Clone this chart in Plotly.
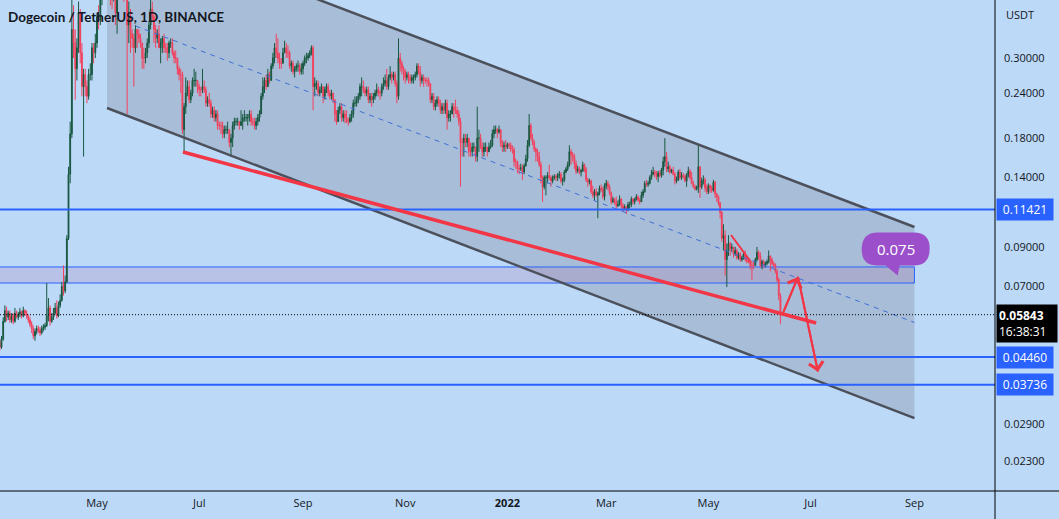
import numpy as np
import pandas as pd
import plotly.graph_objects as go

# ---------------- data (DOGE/USDT daily) ----------------
first_date = "2021-03-04"
first_open = 0.0490

closes = [
    # Mar 2021 (4-31)
    .0475, .0500, .0560, .0600, .0575, .0590, .0565, .0580, .0560, .0590, .0575, .0585, .0595, .0580,
    .0600, .0590, .0580, .0565, .0550, .0535, .0510, .0525, .0535, .0530, .0520, .0535, .0540, .0545,
    # Apr 2021
    .0580, .0610, .0560, .0575, .0590, .0610, .0580, .0620, .0640, .0700,
    .0680, .0720, .0950, .1430, .1850, .3600, .3300, .2800, .3200, .4000,
    .3100, .2500, .2700, .2500, .2350, .2700, .2700, .3200, .3100, .3300,
    # May 2021
    .39, .38, .44, .55, .59, .66, .68, .66, .49, .46, .50, .40, .47, .54, .51, .51,
    .48, .47, .37, .39, .35, .34, .32, .36, .35, .34, .33, .30, .30, .31, .33,
    # Jun 2021
    .37, .41, .39, .36, .34, .35, .32, .33, .34, .32, .32, .31, .33, .33, .31,
    .30, .30, .28, .27, .27, .19, .22, .24, .25, .23, .24, .26, .26, .26, .25,
    # Jul 2021
    .245, .245, .25, .245, .225, .23, .225, .21, .215, .205, .21, .195, .195, .195, .185, .19,
    .19, .19, .175, .18, .195, .20, .20, .20, .195, .20, .205, .205, .205, .205, .21,
    # Aug 2021
    .20, .20, .195, .20, .205, .21, .235, .25, .26, .25, .27, .26, .285, .30, .32, .31,
    .30, .29, .29, .31, .32, .31, .31, .285, .29, .275, .28, .285, .285, .275, .28,
    # Sep 2021
    .29, .30, .30, .305, .31, .32, .25, .255, .255, .24, .245, .25, .235, .245, .25,
    .24, .235, .24, .23, .21, .20, .215, .22, .205, .21, .205, .20, .20, .205, .21,
    # Oct 2021
    .225, .225, .23, .235, .25, .25, .245, .24, .245, .23, .235, .23, .235, .24, .245, .24,
    .24, .25, .255, .26, .25, .265, .27, .265, .27, .255, .235, .30, .29, .28, .275,
    # Nov 2021
    .265, .27, .265, .26, .265, .265, .27, .285, .275, .26, .265, .26, .26, .26, .255,
    .23, .235, .22, .225, .23, .225, .215, .22, .215, .225, .205, .21, .21, .22, .215,
    # Dec 2021
    .215, .21, .20, .175, .175, .18, .175, .18, .165, .165, .17, .17, .16, .18, .18, .17,
    .165, .17, .17, .165, .17, .172, .185, .19, .19, .187, .19, .175, .17, .172, .17,
    # Jan 2022
    .173, .172, .168, .167, .155, .155, .148, .148, .149, .145, .151, .158, .172, .195, .18, .175,
    .168, .165, .16, .152, .14, .132, .14, .14, .142, .14, .137, .14, .141, .14, .142,
    # Feb 2022
    .143, .137, .138, .145, .148, .152, .165, .162, .16, .153, .146, .148, .145, .146,
    .152, .148, .138, .136, .137, .128, .125, .128, .125, .127, .131, .13, .124, .133,
    # Mar 2022
    .135, .132, .127, .12, .122, .12, .117, .118, .122, .117, .115, .116, .114, .118, .118, .122,
    .12, .122, .124, .121, .12, .125, .128, .135, .134, .135, .14, .143, .145, .143, .141,
    # Apr 2022
    .144, .142, .147, .155, .16, .148, .15, .145, .147, .143, .137, .138, .145, .14, .142,
    .141, .137, .142, .146, .14, .135, .132, .13, .132, .15, .132, .137, .138, .131, .128,
    # May 2022
    .133, .131, .129, .136, .126, .124, .119, .112, .095, .097, .083, .088, .092, .089, .09, .086,
    .088, .084, .086, .083, .084, .086, .083, .082, .082, .08, .08, .08, .083, .087, .085,
    # Jun 2022 (1-13)
    .080, .082, .080, .081, .082, .085, .083, .081, .080, .077, .073, .066, .05843,
]

highs = [
    .0500, .0510, .0575, .0620, .0615, .0600, .0600, .0590, .0590, .0610, .0600, .0595, .0610, .0600,
    .0615, .0605, .0600, .0585, .0575, .0560, .0545, .0535, .0545, .0545, .0540, .0545, .0550, .0555,
    .0715, .0650, .0620, .0590, .0610, .0630, .0640, .0635, .0665, .0720,
    .0800, .0750, .0970, .1500, .2000, .4500, .4200, .3600, .3400, .4300,
    .4100, .3300, .2800, .2800, .2600, .2800, .2900, .3300, .3300, .3500,
    .40, .42, .46, .59, .69, .68, .69, .74, .66, .56, .51, .54, .57, .59, .57, .59,
    .51, .51, .48, .43, .41, .36, .35, .37, .36, .36, .35, .33, .32, .32, .34,
    .38, .44, .43, .40, .37, .36, .37, .34, .345, .35, .33, .33, .335, .34, .34,
    .315, .315, .30, .285, .28, .275, .225, .265, .26, .26, .245, .265, .28, .275, .26,
    .255, .25, .28, .26, .25, .235, .24, .23, .22, .22, .215, .215, .20, .20, .20, .195,
    .195, .20, .19, .185, .20, .205, .205, .205, .20, .215, .21, .215, .21, .21, .215,
    .215, .205, .205, .205, .21, .215, .24, .265, .265, .27, .28, .275, .29, .31, .33, .35,
    .34, .31, .30, .32, .335, .33, .325, .315, .295, .295, .285, .29, .295, .29, .29,
    .295, .305, .31, .31, .315, .325, .325, .265, .26, .26, .25, .255, .25, .25, .255,
    .255, .245, .245, .24, .23, .215, .22, .225, .225, .215, .215, .215, .205, .21, .215,
    .23, .235, .235, .24, .255, .265, .26, .25, .25, .25, .24, .24, .24, .245, .255, .25,
    .245, .255, .265, .27, .28, .27, .285, .275, .275, .275, .26, .34, .31, .295, .285,
    .28, .275, .275, .27, .27, .27, .275, .29, .29, .285, .27, .27, .265, .265, .265,
    .255, .24, .24, .23, .235, .235, .23, .225, .225, .23, .23, .215, .215, .225, .225,
    .23, .22, .215, .205, .18, .185, .185, .185, .18, .175, .175, .175, .17, .22, .19, .185,
    .175, .175, .175, .17, .175, .178, .19, .195, .195, .192, .195, .19, .178, .176, .178,
    .175, .175, .175, .172, .17, .158, .156, .152, .153, .152, .153, .162, .178, .21, .198, .185,
    .178, .17, .168, .165, .155, .142, .142, .142, .145, .152, .142, .142, .143, .143, .144,
    .146, .145, .14, .147, .15, .155, .172, .168, .165, .163, .156, .151, .15, .148,
    .155, .153, .15, .14, .139, .138, .133, .13, .131, .128, .133, .134, .132, .135,
    .138, .137, .134, .128, .124, .123, .124, .121, .125, .123, .119, .118, .117, .12, .12, .124,
    .123, .123, .126, .125, .123, .128, .13, .137, .138, .137, .142, .147, .15, .147, .146,
    .146, .147, .149, .16, .18, .165, .155, .152, .148, .15, .145, .141, .147, .148, .145,
    .144, .143, .144, .15, .148, .145, .137, .134, .133, .172, .15, .14, .142, .14, .134,
    .135, .134, .133, .138, .137, .127, .125, .12, .113, .104, .1, .092, .097, .093, .092, .09,
    .09, .089, .087, .087, .085, .087, .088, .085, .084, .083, .082, .082, .084, .09, .088,
    .087, .083, .083, .082, .083, .088, .085, .084, .082, .081, .078, .074, .067,
]

lows = [
    .0465, .0470, .0495, .0555, .0560, .0565, .0555, .0555, .0550, .0555, .0570, .0565, .0575, .0570,
    .0575, .0580, .0570, .0555, .0540, .0520, .0500, .0495, .0515, .0520, .0510, .0515, .0525, .0530,
    .0540, .0560, .0545, .0555, .0565, .0585, .0570, .0575, .0610, .0635,
    .0660, .0670, .0715, .0940, .1350, .1800, .3000, .2300, .2600, .3100,
    .2900, .2350, .1600, .2350, .2250, .2300, .2600, .2600, .2900, .3000,
    .32, .36, .37, .42, .53, .53, .61, .61, .42, .41, .43, .37, .35, .46, .48, .44,
    .43, .45, .21, .33, .31, .32, .25, .31, .32, .33, .32, .28, .28, .29, .30,
    .32, .36, .38, .33, .32, .33, .32, .29, .31, .31, .31, .295, .30, .32, .305,
    .29, .29, .27, .26, .24, .185, .165, .21, .235, .225, .225, .235, .25, .25, .24,
    .235, .235, .24, .24, .22, .22, .22, .205, .205, .20, .20, .19, .19, .185, .18, .18,
    .185, .185, .17, .16, .17, .19, .195, .195, .19, .195, .19, .20, .20, .195, .20,
    .195, .195, .19, .19, .195, .20, .21, .23, .24, .245, .25, .255, .26, .28, .29, .30,
    .29, .28, .28, .29, .31, .30, .30, .28, .275, .27, .265, .275, .275, .27, .27,
    .27, .285, .29, .295, .30, .305, .215, .235, .245, .235, .235, .24, .225, .23, .24,
    .235, .23, .23, .225, .20, .196, .20, .21, .20, .20, .198, .198, .195, .198, .20,
    .205, .22, .22, .225, .23, .235, .24, .235, .235, .225, .225, .22, .225, .23, .235, .235,
    .23, .235, .245, .25, .245, .245, .26, .255, .26, .25, .225, .23, .275, .27, .26,
    .255, .26, .255, .255, .255, .255, .26, .265, .27, .25, .255, .25, .255, .25, .25,
    .225, .225, .215, .215, .22, .22, .21, .21, .21, .21, .19, .20, .20, .21, .205,
    .21, .205, .195, .132, .16, .16, .17, .17, .16, .16, .16, .165, .155, .155, .165, .168,
    .16, .16, .165, .16, .165, .168, .17, .18, .185, .18, .185, .17, .165, .165, .165,
    .168, .168, .165, .163, .15, .148, .144, .143, .146, .138, .143, .15, .155, .17, .178, .172,
    .165, .155, .155, .15, .135, .12, .13, .125, .135, .138, .132, .135, .138, .137, .137,
    .139, .135, .133, .136, .144, .146, .15, .152, .155, .148, .143, .144, .143, .141,
    .145, .145, .136, .132, .134, .126, .123, .121, .124, .108, .125, .128, .122, .121,
    .13, .129, .125, .118, .119, .118, .115, .116, .117, .115, .113, .114, .111, .113, .115, .116,
    .118, .118, .121, .12, .118, .12, .123, .127, .132, .132, .134, .138, .142, .14, .138,
    .136, .14, .14, .142, .15, .145, .145, .143, .144, .142, .134, .135, .137, .138, .138,
    .139, .136, .132, .14, .138, .134, .131, .129, .129, .127, .123, .13, .134, .128, .126,
    .126, .127, .127, .128, .123, .12, .117, .108, .093, .088, .075, .0697, .085, .085, .087, .084,
    .085, .083, .083, .082, .082, .083, .082, .081, .081, .078, .073, .078, .08, .082, .083,
    .079, .078, .079, .079, .080, .081, .077, .080, .079, .076, .072, .064, .055,
]

# drawing levels / annotations (date, price)
level_prices = [0.11421, 0.04460, 0.03736]
last_price = 0.05843
countdown = "16:38:31"
zone_low, zone_high = 0.0715, 0.0792
zone_end = "2022-09-01"
channel_dates = ["2021-05-07", "2022-09-01"]
channel_upper = [0.7276, 0.1022]
channel_lower = [0.2181, 0.03024]
mid_dates = ["2021-05-24", "2022-09-01"]
mid_prices = [0.368, 0.0556]
trend_dates = ["2021-06-21 08:00", "2022-07-04 08:00"]
trend_prices = [0.1648, 0.0554]
wedge_dates = ["2022-05-14 12:00", "2022-05-26 10:00"]
wedge_prices = [0.0971, 0.0817]
zig_dates = ["2022-06-14 14:00", "2022-06-23 12:00", "2022-07-05 10:00"]
zig_prices = [0.0591, 0.0743, 0.0406]
bubble_date, bubble_price, bubble_text = "2022-08-22", 0.075, "0.075"

y_ticks = [0.30, 0.24, 0.18, 0.14, 0.09, 0.07, 0.029, 0.023]
x_tick_dates = ["2021-05-01", "2021-07-01", "2021-09-01", "2021-11-01", "2022-01-01",
                "2022-03-01", "2022-05-01", "2022-07-01", "2022-09-01"]
x_tick_text = ["May", "Jul", "Sep", "Nov", "<b>2022</b>", "Mar", "May", "Jul", "Sep"]

# ---------------- build ----------------
n = min(len(closes), len(highs), len(lows))
closes, highs, lows = closes[:n], highs[:n], lows[:n]
dates = pd.date_range(first_date, periods=n, freq="D")
opens = [first_open] + closes[:-1]
highs = [max(h, o, c) for h, o, c in zip(highs, opens, closes)]
lows = [min(l, o, c) for l, o, c in zip(lows, opens, closes)]

BG = "#bcd9f8"
UP = "#17573f"
DOWN = "#f2415d"
RED = "#f23645"
BLUE = "#2962ff"
TXT = "#131722"

W, H = 1059, 519
ML, MR, MT, MB = 0, 64, 0, 28
PW, PH = W - ML - MR, H - MT - MB
x_range = [pd.Timestamp("2021-03-04 02:24"), pd.Timestamp("2022-10-19 02:24")]
y_range = [-1.72133, -0.36235]

def xpix(d):
    d = pd.Timestamp(d)
    return (d - x_range[0]) / (x_range[1] - x_range[0]) * PW

def ypix(p):
    return (y_range[1] - np.log10(p)) / (y_range[1] - y_range[0]) * PH

def paper(px, py):
    return px / PW, 1 - py / PH

fig = go.Figure()

fig.add_trace(go.Candlestick(
    x=dates, open=opens, high=highs, low=lows, close=closes,
    increasing=dict(line=dict(color=UP, width=1), fillcolor=UP),
    decreasing=dict(line=dict(color=DOWN, width=1), fillcolor=DOWN),
    whiskerwidth=0, hoverinfo="skip", showlegend=False,
))

# channel fill and zone as below-layer shapes
d0, d1 = channel_dates
fig.add_shape(type="path", xref="x", yref="y", layer="below",
              path=f"M {d0},{channel_upper[0]} L {d1},{channel_upper[1]} L {d1},{channel_lower[1]} L {d0},{channel_lower[0]} Z",
              fillcolor="rgba(120,123,134,0.28)", line=dict(width=0))
fig.add_shape(type="rect", xref="x", yref="y", layer="below",
              x0="2021-02-15", x1=zone_end, y0=zone_low, y1=zone_high,
              fillcolor="rgba(175,110,170,0.22)", line=dict(color=BLUE, width=1))

# channel borders
for prices in (channel_upper, channel_lower):
    fig.add_trace(go.Scatter(x=channel_dates, y=prices, mode="lines",
                             line=dict(color="#4c505b", width=2.5), hoverinfo="skip", showlegend=False))
fig.add_trace(go.Scatter(x=mid_dates, y=mid_prices, mode="lines",
                         line=dict(color="#3f6fd6", width=1, dash="5px,5px"), hoverinfo="skip", showlegend=False))

# horizontal levels
for lv in level_prices:
    fig.add_trace(go.Scatter(x=[x_range[0], x_range[1]], y=[lv, lv], mode="lines",
                             line=dict(color=BLUE, width=2), hoverinfo="skip", showlegend=False))
fig.add_trace(go.Scatter(x=[x_range[0], x_range[1]], y=[last_price, last_price], mode="lines",
                         line=dict(color="#000000", width=1, dash="1px,2px"), hoverinfo="skip", showlegend=False))

# red drawings
fig.add_trace(go.Scatter(x=trend_dates, y=trend_prices, mode="lines",
                         line=dict(color=RED, width=3.5), hoverinfo="skip", showlegend=False))
fig.add_trace(go.Scatter(x=wedge_dates, y=wedge_prices, mode="lines",
                         line=dict(color=RED, width=2), hoverinfo="skip", showlegend=False))
fig.add_trace(go.Scatter(x=zig_dates, y=zig_prices, mode="lines",
                         line=dict(color=RED, width=2), hoverinfo="skip", showlegend=False))
for i in (1, 2):
    fig.add_annotation(x=zig_dates[i], y=np.log10(zig_prices[i]), xref="x", yref="y",
                       ax=zig_dates[i - 1], ay=np.log10(zig_prices[i - 1]), axref="x", ayref="y",
                       showarrow=True, arrowhead=4, arrowsize=1.4, arrowwidth=2, arrowcolor=RED,
                       text="", standoff=0)

# price-axis labels
for lv in level_prices:
    fig.add_annotation(x=1, xref="paper", xanchor="left", xshift=1, y=np.log10(lv), yref="y",
                       yanchor="middle", text=f"{lv:.5f}", showarrow=False,
                       font=dict(color="white", size=12, family="Open Sans"),
                       bgcolor=BLUE, borderpad=2, width=52)
fig.add_annotation(x=1, xref="paper", xanchor="left", xshift=1, y=np.log10(last_price), yref="y",
                   yanchor="top", yshift=11, text=f"<b>{last_price:.5f}</b><br>{countdown}", showarrow=False,
                   font=dict(color="white", size=12, family="Open Sans"), align="left",
                   bgcolor="#000000", borderpad=2, width=56)
fig.add_annotation(x=1, xref="paper", xanchor="left", xshift=9, y=1, yref="paper", yanchor="top",
                   yshift=-5, text="USDT", showarrow=False, font=dict(color=TXT, size=11, family="Open Sans"))

# title
fig.add_annotation(x=0, xref="paper", xanchor="left", xshift=6, y=1, yref="paper", yanchor="top",
                   yshift=-7, text="<b>Dogecoin / TetherUS, 1D, BINANCE</b>", showarrow=False,
                   font=dict(color=TXT, size=13.5, family="Lato"))

# bubble callout
tx, ty = xpix(bubble_date), ypix(bubble_price)
L, R, T, B = tx - 36, tx + 32, ty - 43, ty - 10
r = 16
def P(px, py):
    a, b = paper(px, py)
    return f"{a:.5f},{b:.5f}"
path = (f"M {P(L + r, T)} L {P(R - r, T)} Q {P(R, T)} {P(R, T + r)} "
        f"Q {P(R, B)} {P(R - r, B)} L {P(tx + 2, B)} L {P(tx, ty)} L {P(tx - 12, B)} "
        f"L {P(L + r, B)} Q {P(L, B)} {P(L, B - r)} Q {P(L, T)} {P(L + r, T)} Z")
fig.add_shape(type="path", xref="paper", yref="paper", path=path,
              fillcolor="#9b4fca", line=dict(width=0))
cx, cy = paper((L + R) / 2, (T + B) / 2)
fig.add_annotation(x=cx, y=cy, xref="paper", yref="paper", xanchor="center", yanchor="middle",
                   text=bubble_text, showarrow=False,
                   font=dict(color="white", size=15, family="Open Sans"))

# axis frame lines
fig.add_shape(type="line", xref="paper", yref="paper", x0=1, x1=1, y0=-MB / PH, y1=1,
              line=dict(color="#000000", width=1))
fig.add_shape(type="line", xref="paper", yref="paper", x0=0, x1=W / PW, y0=0, y1=0,
              line=dict(color="#000000", width=1))

fig.update_layout(
    width=W, height=H, margin=dict(l=ML, r=MR, t=MT, b=MB),
    paper_bgcolor=BG, plot_bgcolor=BG, showlegend=False,
    font=dict(family="Open Sans", color=TXT, size=11),
    xaxis=dict(type="date", range=x_range, rangeslider=dict(visible=False), showgrid=False,
               zeroline=False, showline=False, ticks="", tickvals=x_tick_dates, ticktext=x_tick_text,
               tickfont=dict(size=11, color=TXT), ticklabelstandoff=4),
    yaxis=dict(type="log", side="right", range=y_range, showgrid=False, zeroline=False,
               showline=False, ticks="", tickvals=y_ticks, ticktext=[f"{v:.5f}" for v in y_ticks],
               tickfont=dict(size=11, color=TXT), ticklabelstandoff=8),
)

fig.write_html("out.html", include_plotlyjs=True, config={"displayModeBar": False})
